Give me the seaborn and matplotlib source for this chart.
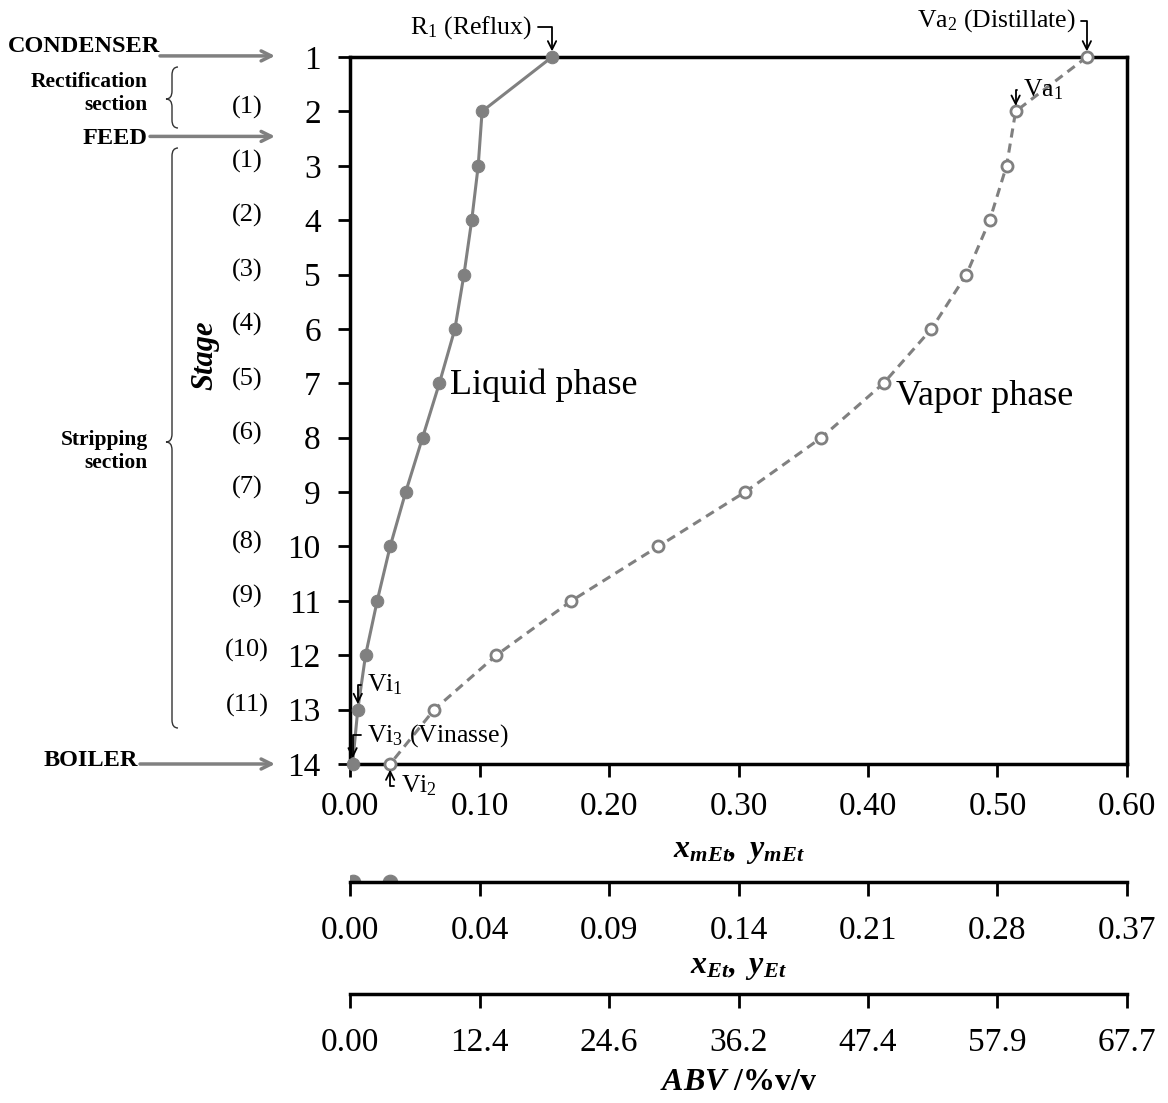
import pandas as pd
import seaborn as sns
import matplotlib.pyplot as plt
from matplotlib.path import Path
from matplotlib.patches import PathPatch
from matplotlib.transforms import blended_transform_factory

# data
stages = list(range(1, 15))
x_liquid = [0.156, 0.102, 0.099, 0.094, 0.088, 0.081, 0.069, 0.056, 0.043, 0.031, 0.021, 0.012, 0.006, 0.002]
y_vapor = [0.569, 0.514, 0.507, 0.494, 0.476, 0.449, 0.412, 0.364, 0.305, 0.238, 0.171, 0.113, 0.065, 0.031]
main_ticks = [0.0, 0.1, 0.2, 0.3, 0.4, 0.5, 0.6]
xet_labels = ['0.00', '0.04', '0.09', '0.14', '0.21', '0.28', '0.37']
abv_labels = ['0.00', '12.4', '24.6', '36.2', '47.4', '57.9', '67.7']
section_labels = ['(1)', '(1)', '(2)', '(3)', '(4)', '(5)', '(6)', '(7)', '(8)', '(9)', '(10)', '(11)']
section_stages = list(range(2, 14))

sns.set_theme(style='white')
plt.rcParams['font.family'] = ['Liberation Serif', 'DejaVu Serif']
plt.rcParams['text.color'] = 'black'
plt.rcParams['axes.labelcolor'] = 'black'
plt.rcParams['mathtext.fontset'] = 'custom'
plt.rcParams['mathtext.rm'] = 'Liberation Serif'
plt.rcParams['mathtext.it'] = 'Liberation Serif:italic'
plt.rcParams['mathtext.bf'] = 'Liberation Serif:bold'
plt.rcParams['mathtext.bfit'] = 'Liberation Serif:bold:italic'

W, H = 1168, 1103
gray = '#808080'
fig = plt.figure(figsize=(W / 100, H / 100), dpi=100)

L, R, T, B = 350, 1127, 57, 764
ax = fig.add_axes([L / W, 1 - B / H, (R - L) / W, (B - T) / H])

df = pd.DataFrame({'stage': stages, 'liquid': x_liquid, 'vapor': y_vapor})
sns.lineplot(data=df, x='liquid', y='stage', sort=False, estimator=None, ax=ax,
             color=gray, lw=2.2, marker='o', ms=9, mec=gray, mfc=gray, clip_on=False, zorder=3)
sns.lineplot(data=df, x='vapor', y='stage', sort=False, estimator=None, ax=ax,
             color=gray, lw=2.2, linestyle=(0, (3, 2)), marker='o', ms=8, mec=gray, mfc='white',
             mew=2, clip_on=False, zorder=3)

ax.set_xlim(0, 0.6)
ax.set_ylim(14, 1)
ax.set_yticks(stages)
ax.set_yticklabels([str(s) for s in stages])
ax.set_xticks(main_ticks)
ax.set_xticklabels([f'{t:.2f}' for t in main_ticks])
ax.tick_params(axis='both', direction='out', length=9, width=2, color='black',
               labelsize=24, labelcolor='black', left=True, bottom=True)
ax.tick_params(axis='x', pad=11)
ax.tick_params(axis='y', pad=12)
for s in ax.spines.values():
    s.set_color('black')
    s.set_linewidth(2.5)
ax.set_xlabel(r'$\mathbfit{x_{mEt},\ y_{mEt}}$', fontsize=23)
ax.xaxis.set_label_coords(0.5, -(851 - B) / (B - T))
ax.xaxis.label.set_verticalalignment('center')
ax.set_ylabel('Stage', fontsize=22, fontweight='bold', style='italic')
ax.yaxis.set_label_coords((205 - L) / (R - L), 1 - (355 - T) / (B - T))
ax.yaxis.label.set_verticalalignment('center')

ax.text(0.077, 7.03, 'Liquid phase', fontsize=26, va='center', ha='left')
ax.text(0.4216, 7.25, 'Vapor phase', fontsize=26, va='center', ha='left')

# point annotations with elbow arrows
arr = dict(arrowstyle='->', color='black', lw=1.3, mutation_scale=15,
           connectionstyle='angle,angleA=0,angleB=90,rad=0', shrinkB=4)
afs = 18.5
ax.annotate(r'R$_1$ (Reflux)', xy=(x_liquid[0], 1), xytext=(0.1405, 0.45),
            ha='right', va='center', fontsize=afs, arrowprops=arr, annotation_clip=False)
ax.annotate(r'Va$_2$ (Distillate)', xy=(y_vapor[0], 1), xytext=(0.560, 0.33),
            ha='right', va='center', fontsize=afs, arrowprops=arr, annotation_clip=False)
ax.annotate(r'Va$_1$', xy=(y_vapor[1], 2), xytext=(0.520, 1.60),
            ha='left', va='center', fontsize=afs, arrowprops=arr)
ax.annotate(r'Vi$_1$', xy=(x_liquid[12], 13), xytext=(0.0135, 12.55),
            ha='left', va='center', fontsize=afs, arrowprops=arr)
ax.annotate(r'Vi$_3$ (Vinasse)', xy=(x_liquid[13], 14), xytext=(0.0135, 13.47),
            ha='left', va='center', fontsize=afs, arrowprops=arr, annotation_clip=False)
ax.annotate(r'Vi$_2$', xy=(y_vapor[13], 14), xytext=(0.039, 14.40),
            ha='left', va='center', fontsize=afs, arrowprops=arr, annotation_clip=False)

# left-hand column description
bt = blended_transform_factory(fig.transFigure, ax.transData)
arrow_gray = dict(arrowstyle='->', color=gray, lw=2.5, mutation_scale=18, shrinkA=0, shrinkB=0)
for ystage, x0 in [(0.98, 160), (2.46, 150), (14.0, 140)]:
    ax.annotate('', xy=(275 / W, ystage), xycoords=bt, xytext=(x0 / W, ystage), textcoords=bt,
                arrowprops=arrow_gray, annotation_clip=False)
ax.text(160 / W, 0.80, 'CONDENSER', transform=bt, ha='right', va='center', fontsize=17.5, fontweight='bold')
ax.text(147 / W, 2.50, 'FEED', transform=bt, ha='right', va='center', fontsize=17.5, fontweight='bold')
ax.text(138 / W, 13.93, 'BOILER', transform=bt, ha='right', va='center', fontsize=17.5, fontweight='bold')
ax.text(148 / W, 1.68, 'Rectification\nsection', transform=bt, ha='right', va='center',
        fontsize=15.5, fontweight='bold', linespacing=1.2, multialignment='right')
ax.text(148 / W, 8.26, 'Stripping\nsection', transform=bt, ha='right', va='center',
        fontsize=15.5, fontweight='bold', linespacing=1.2, multialignment='right')
for lab, st in zip(section_labels, section_stages):
    ax.text(247 / W, st - 0.08, lab, transform=bt, ha='center', va='center', fontsize=19)


def brace(xr, y0, y1, w, ym=None):
    # curly brace opening to the right, tip on the left; pixel coords from top-left
    if ym is None:
        ym = (y0 + y1) / 2
    r = 8
    xm = xr - w / 2
    pts = [(xr, y0), (xm, y0), (xm, y0 + r), (xm, ym - r), (xm, ym), (xr - w, ym),
           (xm, ym), (xm, ym + r), (xm, y1 - r), (xm, y1), (xr, y1)]
    codes = [Path.MOVETO, Path.CURVE3, Path.CURVE3, Path.LINETO, Path.CURVE3, Path.CURVE3,
             Path.CURVE3, Path.CURVE3, Path.LINETO, Path.CURVE3, Path.CURVE3]
    pts = [(px / W, 1 - py / H) for px, py in pts]
    fig.patches.append(PathPatch(Path(pts, codes), transform=fig.transFigure,
                                 fill=False, edgecolor='#333333', lw=1.0))


brace(178, 67, 128, 12, ym=99)
brace(178, 148, 728, 12, ym=442)

# secondary axes: x_Et, y_Et and ABV
for yline, labels, ylab_c, title in [(882, xet_labels, 967, r'$\mathbfit{x_{Et},\ y_{Et}}$'),
                                     (994, abv_labels, 1083, r'$\mathbfit{ABV}$ $\mathbf{/\%v/v}$')]:
    a2 = fig.add_axes([L / W, 1 - yline / H, (R - L) / W, 0.02])
    a2.set_facecolor('none')
    for k in ['top', 'left', 'right']:
        a2.spines[k].set_visible(False)
    a2.spines['bottom'].set_color('black')
    a2.spines['bottom'].set_linewidth(2.5)
    a2.set_xlim(0, 0.6)
    a2.set_ylim(0, 1)
    a2.set_yticks([])
    a2.set_xticks(main_ticks)
    a2.set_xticklabels(labels)
    a2.tick_params(axis='x', direction='out', length=10, width=2, color='black',
                   labelsize=24, labelcolor='black', pad=14, bottom=True)
    fig.text(((L + R) / 2) / W, 1 - ylab_c / H, title, ha='center', va='center', fontsize=23)
    if yline == 882:
        sns.scatterplot(x=[x_liquid[-1], y_vapor[-1]], y=[0, 0], ax=a2, color=gray, s=110,
                        edgecolor=gray, clip_on=True, zorder=1, legend=False)

fig.savefig('out.png', dpi=100)
